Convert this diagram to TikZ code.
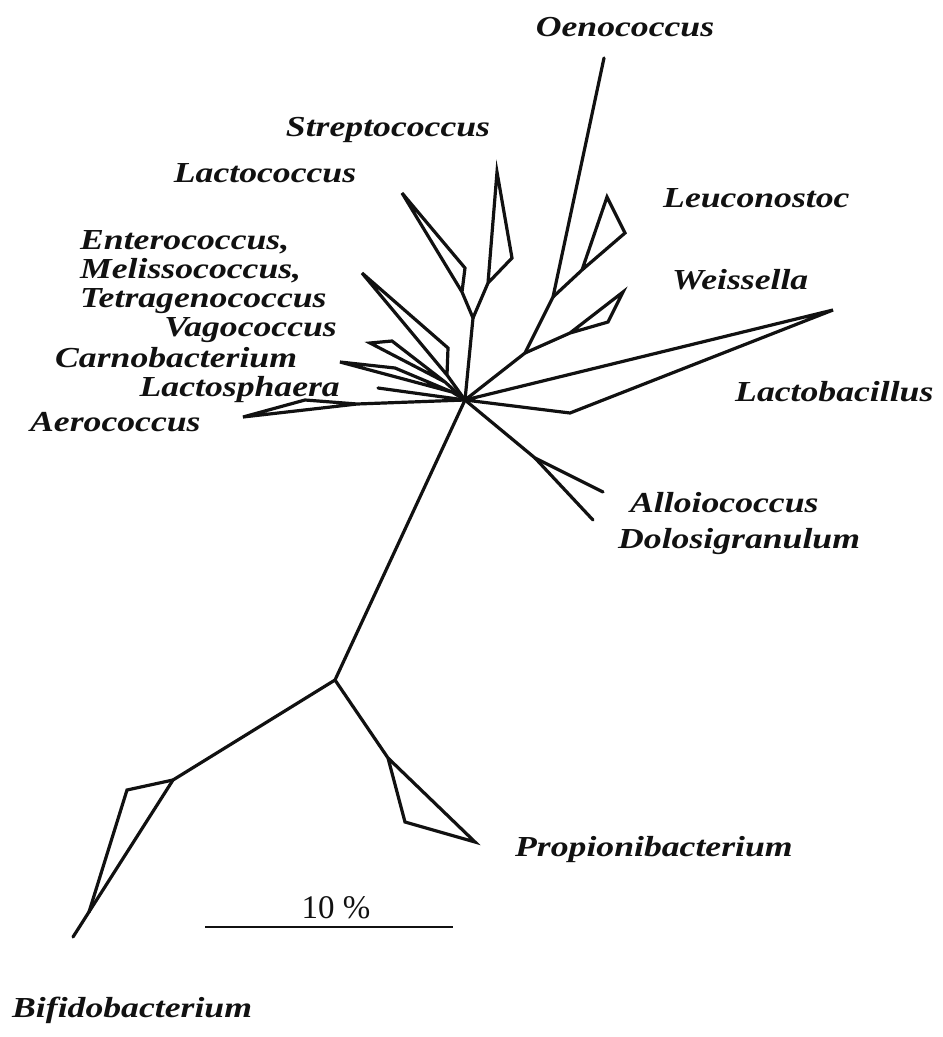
\documentclass[tikz,border=0pt]{standalone}
\usepackage{fontspec}
\setmainfont{Liberation Serif}
\usetikzlibrary{positioning}
\definecolor{ink}{HTML}{111111}
\newcommand{\genus}[1]{\scalebox{1.23}[1]{#1}}
\tikzset{
  branch/.style={draw=ink,line width=3.2pt,line join=miter,line cap=round},
  taxon/.style={font=\fontsize{29}{34}\selectfont\bfseries\itshape,text=ink,inner sep=0pt},
  scalebar/.style={draw=ink,line width=2.4pt},
  scalelabel/.style={font=\fontsize{33}{38}\selectfont,text=ink,inner sep=0pt},
}
\begin{document}
\begin{tikzpicture}[x=1pt,y=-1pt]
\useasboundingbox (0,0) rectangle (943,1037);
% tree nodes
\coordinate (hub) at (465,400);
\coordinate (sl) at (473,318);
\coordinate (lc1) at (462,292);\coordinate (lc2) at (465,268);\coordinate (lctip) at (402,193);
\coordinate (st1) at (488,283);\coordinate (st2) at (512,258);\coordinate (sttip) at (497,172);
\coordinate (en1) at (447,375);\coordinate (en2) at (448,348);\coordinate (entip) at (362,273);
\coordinate (va1) at (445,382);\coordinate (va2) at (392,341);\coordinate (vatip) at (370,343);
\coordinate (ca1) at (452,392);\coordinate (ca2) at (395,368);\coordinate (catip) at (340,362);
\coordinate (lstip) at (378,388);
\coordinate (ae1) at (357,404);\coordinate (ae2) at (305,400);\coordinate (aetip) at (243,417);
\coordinate (ws) at (525,353);
\coordinate (ws1) at (570,333);\coordinate (ws2) at (608,322);\coordinate (wstip) at (623,292);
\coordinate (ol) at (553,297);
\coordinate (oetip) at (604,58);
\coordinate (lu1) at (582,270);\coordinate (lu2) at (625,233);\coordinate (lutip) at (607,197);
\coordinate (lb1) at (570,413);\coordinate (lbtip) at (833,310);
\coordinate (ad) at (535,458);
\coordinate (altip) at (603,492);\coordinate (dotip) at (593,520);
\coordinate (root) at (335,680);
\coordinate (bf) at (173,780);
\coordinate (bf1) at (127,790);\coordinate (bf2) at (89,912);\coordinate (bftip) at (73,937);
\coordinate (pr) at (388,758);
\coordinate (pr1) at (405,822);\coordinate (prtip) at (475,842);
% branches
\draw[branch] (hub) -- (sl);
\draw[branch] (sl) -- (lc1) -- (lctip) -- (lc2) -- (lc1);
\draw[branch] (sl) -- (st1) -- (sttip) -- (st2) -- (st1);
\draw[branch] (hub) -- (en1) -- (entip) -- (en2) -- (en1);
\draw[branch] (hub) -- (va1) -- (vatip) -- (va2) -- (va1);
\draw[branch] (hub) -- (ca1) -- (catip) -- (ca2) -- (ca1);
\draw[branch] (hub) -- (lstip);
\draw[branch] (hub) -- (ae1) -- (aetip) -- (ae2) -- (ae1);
\draw[branch] (hub) -- (ws) -- (ol) -- (oetip);
\draw[branch] (ws) -- (ws1) -- (wstip) -- (ws2) -- (ws1);
\draw[branch] (ol) -- (lu1) -- (lutip) -- (lu2) -- (lu1);
\draw[branch] (hub) -- (lbtip) -- (lb1) -- (hub);
\draw[branch] (hub) -- (ad) -- (altip);
\draw[branch] (ad) -- (dotip);
\draw[branch] (hub) -- (root) -- (bf) -- (bftip);
\draw[branch] (bf) -- (bf1) -- (bf2);
\draw[branch] (root) -- (pr) -- (prtip) -- (pr1) -- (pr);
% labels
\node[taxon] (oeno) at (625,27) {\genus{Oenococcus}};
\node[taxon] (strep) at (388,130) {\genus{Streptococcus}};
\node[taxon] (lacto) at (265,173) {\genus{Lactococcus}};
\node[taxon,anchor=west] (leuco) at (663,198) {\genus{Leuconostoc}};
\node[taxon,anchor=west] (entero) at (80,242) {\genus{Enterococcus,}};
\node[taxon,anchor=west] (meliss) at (80,271) {\genus{Melissococcus,}};
\node[taxon,anchor=west] (tetra) at (80,301) {\genus{Tetragenococcus}};
\node[taxon,anchor=east] (vago) at (337,330) {\genus{Vagococcus}};
\node[taxon,anchor=west] (weiss) at (672,280) {\genus{Weissella}};
\node[taxon,anchor=west] (carno) at (55,358) {\genus{Carnobacterium}};
\node[taxon,anchor=east] (lsph) at (340,390) {\genus{Lactosphaera}};
\node[taxon,anchor=west] (aero) at (30,422) {\genus{Aerococcus}};
\node[taxon,anchor=west] (lbac) at (735,392) {\genus{Lactobacillus}};
\node[taxon,anchor=west] (alloi) at (630,503) {\genus{Alloiococcus}};
\node[taxon,anchor=west] (dolo) at (618,542) {\genus{Dolosigranulum}};
\node[taxon,anchor=west] (propi) at (515,850) {\genus{Propionibacterium}};
\node[taxon,anchor=west] (bifido) at (12,1010) {\genus{Bifidobacterium}};
% scale
\coordinate (sbl) at (205,927);
\coordinate (sbr) at (453,927);
\draw[scalebar] (sbl) -- (sbr);
\node[scalelabel] (sbtext) at (336,908) {10 \%};
\end{tikzpicture}
\end{document}
